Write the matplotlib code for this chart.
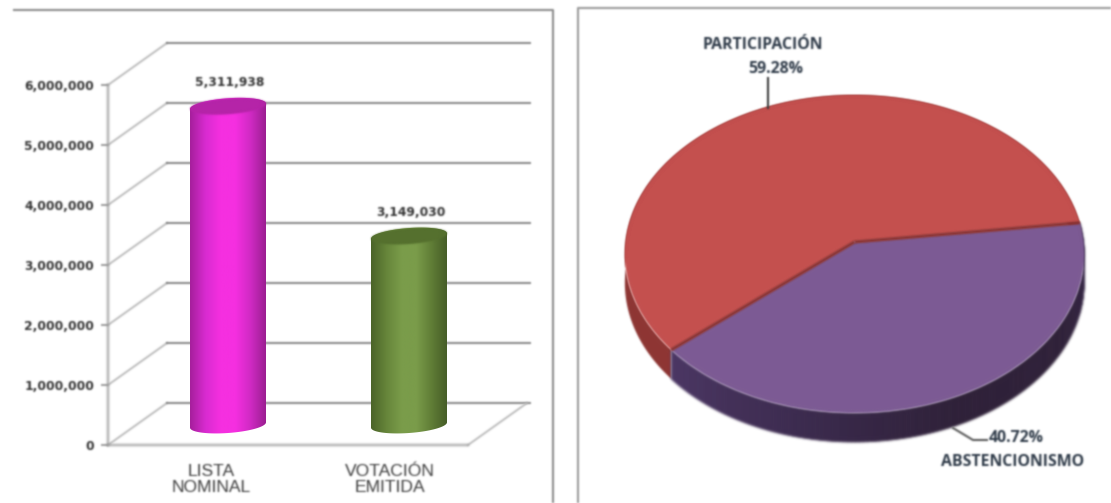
import numpy as np
import matplotlib
matplotlib.use("Agg")
import matplotlib.pyplot as plt
from matplotlib.colors import LinearSegmentedColormap
from matplotlib.collections import PolyCollection
from matplotlib.lines import Line2D
from matplotlib.patches import Polygon
from matplotlib.transforms import Transform

# ---- data ----
bar_categories = ["LISTA\nNOMINAL", "VOTACIÓN\nEMITIDA"]
bar_values = [5311938, 3149030]
bar_labels = ["5,311,938", "3,149,030"]
y_ticks = [0, 1000000, 2000000, 3000000, 4000000, 5000000, 6000000]
pie_names = ["PARTICIPACIÓN", "ABSTENCIONISMO"]
pie_values = [59.28, 40.72]
pie_labels = ["59.28%", "40.72%"]

W, H = 1111, 503
fig = plt.figure(figsize=(W / 100, H / 100), dpi=100, facecolor="white")


def fx(p):
    return p / W


def fy(p):
    return 1 - p / H


# ---- left chart: front plane of the 3-D box is the real axes ----
X0, X1, Y0, Y6 = 108, 468, 445, 85
ax = fig.add_axes([fx(X0), fy(Y0), fx(X1 - X0), (Y0 - Y6) / H])
ax.set_xlim(X0, X1)
ax.set_ylim(0, 6000000)
ax.patch.set_alpha(0)
UNIT = 6000000 / (Y0 - Y6)   # value per pixel
DX, DY = 59, 42 * UNIT       # depth of the box
BACK_END = 530
GRID = "#858585"
SIDE = "#b8b8b8"

for s in ("top", "right"):
    ax.spines[s].set_visible(False)
for s in ("left", "bottom"):
    ax.spines[s].set_color("#9a9a9a")
    ax.spines[s].set_linewidth(1.4)

ax.set_yticks(y_ticks)
ax.set_yticklabels([f"{v:,}" for v in y_ticks], family="DejaVu Sans",
                   fontweight="bold", fontsize=8.8, color="#333333")
ax.tick_params(axis="y", length=5, width=1.2, color="#8a8a8a", pad=5)

for v in y_ticks:
    ax.plot([X0, X0 + DX], [v, v + DY], color=SIDE, lw=1.3, clip_on=False, zorder=1)
    ax.plot([X0 + DX, BACK_END], [v + DY, v + DY], color=GRID, lw=1.4, clip_on=False, zorder=1)
ax.plot([X1, BACK_END - 3], [0, DY], color=SIDE, lw=1.3, clip_on=False, zorder=1)

ax.set_xticks([211, 390])
ax.set_xticklabels(bar_categories, family="Liberation Sans", fontsize=12.6,
                   color="#3a3a3a", linespacing=1.08)
ax.tick_params(axis="x", length=0, pad=14)

BAR_CX = [228, 409]
BAR_RX = 38
BAR_RY = 8 * UNIT
BAR_TILT = 0.07 * UNIT
BAR_BASE = 20 * UNIT
body_cmaps = [
    LinearSegmentedColormap.from_list("m", ["#a61f9c", "#d82bd0", "#f52fe0", "#f52fe0", "#d02ac4", "#9c1f92"]),
    LinearSegmentedColormap.from_list("g", ["#4b6429", "#66853a", "#7a9c4a", "#7a9c4a", "#607d36", "#465e28"]),
]
top_cols = ["#b524a8", "#55702e"]
label_y = [82, 212]

t = np.linspace(0, 2 * np.pi, 121)
for cx, val, cmap, tc, lab, ly in zip(BAR_CX, bar_values, body_cmaps, top_cols, bar_labels, label_y):
    dx = BAR_RX * np.cos(t)
    ex = cx + dx
    ey = BAR_RY * np.sin(t) + BAR_TILT * dx
    base, top = BAR_BASE, BAR_BASE + val
    lower = t >= np.pi
    upper = t <= np.pi
    poly_x = np.r_[ex[lower], ex[upper]]
    poly_y = np.r_[ey[lower] + base, ey[upper] + top]
    clip = Polygon(np.c_[poly_x, poly_y], closed=True, transform=ax.transData,
                   facecolor="none", edgecolor="none")
    ax.add_patch(clip)
    grad = np.linspace(0, 1, 128).reshape(1, -1)
    im = ax.imshow(grad, cmap=cmap, aspect="auto", zorder=3, clip_on=True,
                   extent=[cx - BAR_RX, cx + BAR_RX, base - 2 * BAR_RY, top + 2 * BAR_RY])
    im.set_clip_path(clip)
    ax.fill(ex, ey + top, color=tc, lw=0, zorder=4, clip_on=False)
    fig.text(fx(cx + 2), fy(ly), lab, ha="center", va="center", family="DejaVu Sans",
             fontweight="bold", fontsize=8.8, color="#333333")
ax.set_xlim(X0, X1)
ax.set_ylim(0, 6000000)

# ---- right chart ----
APEX_X, APEX_Y = 854.5, 242
A, B, K = 158.1, 229.0, 0.0755
DEPTH = 29
START = 7.05


class Tilt(Transform):
    input_dims = output_dims = 2

    def transform_non_affine(self, values):
        v = np.asarray(values, dtype=float)
        d = 1 + K * v[:, 1]
        return np.c_[v[:, 0] / d, v[:, 1] / d]


tilt = Tilt()
L, R, T, Bm = 575, 1111, 0, 503
ax2 = fig.add_axes([fx(L), 0, fx(R - L), 1])
wedges, _ = ax2.pie(pie_values, colors=["#c4504e", "#7c5b94"], startangle=START,
                    counterclock=True, wedgeprops={"linewidth": 0})
ax2.set_aspect("auto")
ax2.set_xlim((L - APEX_X) / B, (R - APEX_X) / B)
ax2.set_ylim((APEX_Y - Bm) / A, (APEX_Y - T) / A)
ax2.set_axis_off()
for w in wedges:
    w.set_transform(tilt + ax2.transData)
    w.set_zorder(5)
    w.set_clip_on(False)

fractions = np.array(pie_values) / np.sum(pie_values)
edges = START + 360 * np.r_[0, np.cumsum(fractions)]
off = DEPTH / A


def rim(a0, a1, n=160):
    ang = np.radians(np.linspace(a0, a1, n))
    return tilt.transform_non_affine(np.c_[np.cos(ang), np.sin(ang)])


red = rim(edges[0], edges[1])
ax2.fill(np.r_[red[:, 0], red[::-1, 0]], np.r_[red[:, 1], red[::-1, 1] - off],
         color="#8e3533", lw=0, zorder=2)
pur = rim(edges[1], edges[2])
shades = LinearSegmentedColormap.from_list("s", ["#4a3563", "#3b2a4e", "#2e2038", "#2e2038", "#36264a"])
quads = [[pur[i], pur[i + 1], pur[i + 1] - [0, off], pur[i] - [0, off]] for i in range(len(pur) - 1)]
qc = shades(np.linspace(0, 1, len(quads)))
ax2.add_collection(PolyCollection(quads, facecolors=qc, edgecolors=qc, linewidths=0.6, zorder=3))

for e in (edges[0], edges[1]):
    p = rim(e, e, 2)[0]
    ax2.plot([0, p[0]], [0, p[1]], color="#8a302e", lw=2.2, zorder=6, solid_capstyle="butt")


def leader(xs, ys, c):
    fig.add_artist(Line2D([fx(x) for x in xs], [fy(y) for y in ys], color=c, lw=1.5, zorder=8))


leader([768, 768], [78, 108], "#3c3c3c")
leader([953, 973, 987], [428, 440, 440], "#5a5a5a")

txt = dict(ha="center", va="center", family="Open Sans", fontweight="bold", color="#2e3a48", fontsize=11.4)
fig.text(fx(763), fy(45), pie_names[0], **txt)
fig.text(fx(776), fy(69), pie_labels[0], **txt)
fig.text(fx(1016), fy(438), pie_labels[1], **txt)
fig.text(fx(1013), fy(462), pie_names[1], **txt)

# ---- panel frames ----
leader([14, 553, 553], [10, 10, 503], "#8c8c8c")
leader([578, 578, 1111], [503, 8, 8], "#9a9a9a")


# ---- the reference is a soft, scanned picture: soften every artist ----
def soften(img, dpi, sigma=0.9, pad=4):
    r = int(3 * sigma) + 1
    k = np.exp(-0.5 * (np.arange(-r, r + 1) / sigma) ** 2)
    k /= k.sum()
    out = np.pad(img.astype(float), ((pad, pad), (pad, pad), (0, 0)))
    out[..., :3] *= out[..., 3:4]
    for axis in (0, 1):
        out = np.apply_along_axis(lambda m: np.convolve(m, k, mode="same"), axis, out)
    a = np.clip(out[..., 3:4], 1e-4, 1)
    out[..., :3] = np.clip(out[..., :3] / a, 0, 1)
    return out, -pad, -pad


for art in fig.findobj(lambda o: isinstance(o, (plt.Text, Line2D, matplotlib.patches.Patch, PolyCollection))):
    if art in (fig.patch, ax.patch, ax2.patch):
        continue
    art.set_agg_filter(soften)

fig.savefig("out.png", dpi=100, facecolor="white")
